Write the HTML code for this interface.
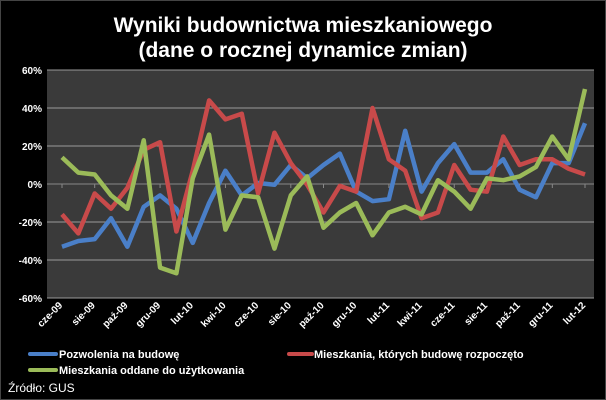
<!DOCTYPE html>
<html><head><meta charset="utf-8"><style>
body{margin:0;background:#000;width:606px;height:400px;overflow:hidden}
svg{display:block}
text{font-family:"Liberation Sans",sans-serif;fill:#fff}
</style></head><body>
<svg id="chart" width="606" height="400">
<rect x="0.5" y="0.5" width="605" height="399" fill="#000" stroke="#444"/>
<text x="303" y="32" text-anchor="middle" font-size="21" font-weight="bold">Wyniki budownictwa mieszkaniowego</text>
<text x="303" y="57" text-anchor="middle" font-size="21" font-weight="bold">(dane o rocznej dynamice zmian)</text>
<rect x="47" y="70" width="547" height="228" fill="#3a3a3a"/>
<g id="grid"></g><g id="yticks"></g><g id="xticks"></g><g id="series"></g>
<line x1="30" y1="354" x2="56" y2="354" stroke="#4a7fc8" stroke-width="4" stroke-linecap="round"/>
<text x="59" y="358" font-size="11" font-weight="bold">Pozwolenia na budowę</text>
<line x1="289" y1="354" x2="312" y2="354" stroke="#c84a4a" stroke-width="4" stroke-linecap="round"/>
<text x="314" y="358" font-size="11" font-weight="bold">Mieszkania, których budowę rozpoczęto</text>
<line x1="30" y1="370" x2="56" y2="370" stroke="#9bbb59" stroke-width="4" stroke-linecap="round"/>
<text x="59" y="374" font-size="11" font-weight="bold">Mieszkania oddane do użytkowania</text>
<text x="8" y="392" font-size="12">Źródło: GUS</text>
</svg>
<script>
const months=["cze-09","lip-09","sie-09","wrz-09","paź-09","lis-09","gru-09","sty-10","lut-10","mar-10","kwi-10","maj-10","cze-10","lip-10","sie-10","wrz-10","paź-10","lis-10","gru-10","sty-11","lut-11","mar-11","kwi-11","maj-11","cze-11","lip-11","sie-11","wrz-11","paź-11","lis-11","gru-11","sty-12","lut-12"];
const permits=[-33,-30,-29,-18,-33,-12,-6,-13,-31,-10,7,-6,0.5,-0.4,10,3,10,16,-4,-9,-8,28,-4,11,21,6,6,13,-3,-7,11,11,32];
const started=[-16,-26,-5,-13,-2,18,22,-25,7,44,34,37,-5,27,11,-0.4,-15,-1,-4,40,13,7,-18,-15,10,-3,-4,25,10,13,13,8,5];
const completed=[14,6,5,-6,-13,23,-44,-47,3,26,-24,-6,-7,-34,-6,4,-23,-15,-10,-27,-15,-12,-16,2,-4,-13,3,2,4,9,25,13,50];
const yTicks=[-60,-40,-20,0,20,40,60];
const NS="http://www.w3.org/2000/svg";
const X0=62,X1=585,Y0=298,Y1=70;
function xs(i){return X0+(X1-X0)*i/(months.length-1);}
function ys(v){return Y0-(v+60)/120*(Y0-Y1);}
function mk(tag,attrs,parent){const e=document.createElementNS(NS,tag);for(const k in attrs)e.setAttribute(k,attrs[k]);document.getElementById(parent).appendChild(e);return e;}
yTicks.forEach(v=>{
  const g=mk("line",{x1:47,x2:594,y1:ys(v),y2:ys(v),stroke:v===0?"#888":"#999","stroke-width":1},"grid");
  
  
  const t=mk("text",{x:42,y:ys(v)+4,"text-anchor":"end","font-size":10,"font-weight":"bold"},"yticks");
  t.textContent=v+"%";
  
  
});
months.forEach((m,i)=>{
  if(i%2)return;
  const x=xs(i)-3;
  const tk=mk("line",{x1:xs(i),x2:xs(i),y1:ys(0),y2:ys(0)+4,stroke:"#888"},"xticks");
  
  
  const t=mk("text",{x:x+4,y:306,"text-anchor":"end","font-size":10,"font-weight":"bold",transform:"rotate(-45 "+(x+4)+" 306)"},"xticks");
  t.textContent=m;
  
  
});
function line(data,color,name){
  const p=mk("polyline",{points:data.map((v,i)=>xs(i)+","+ys(v)).join(" "),fill:"none",stroke:color,"stroke-width":4.5,"stroke-linejoin":"round"},"series");
  
  
}
line(permits,"#4a7fc8","series-permits");
line(started,"#c84a4a","series-started");
line(completed,"#9bbb59","series-completed");
</script>
</body></html>
